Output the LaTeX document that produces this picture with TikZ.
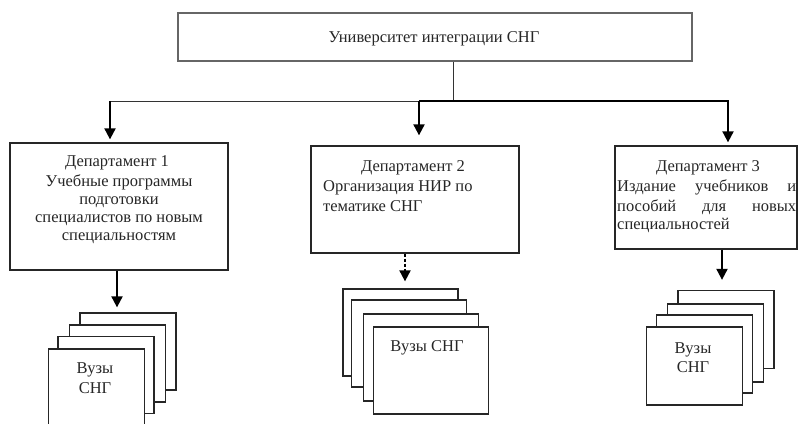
\documentclass[tikz,border=0pt]{standalone}
\usepackage{fontspec}
\setmainfont{Liberation Serif}
\usetikzlibrary{arrows.meta}
\tikzset{
  box/.style={draw=black!85, line width=1.3pt, fill=white, inner sep=0pt},
  topbox/.style={draw=black!60, line width=1.3pt, fill=white, inner sep=0pt},
  ln/.style={anchor=base, inner sep=0pt, font=\fontsize{16.5}{19}\selectfont, text=black!85},
  lnw/.style={anchor=base west, inner sep=0pt, font=\fontsize{16.5}{19}\selectfont, text=black!85},
  thinline/.style={line width=1pt, black!80},
  thickline/.style={line width=2pt, black},
  arr/.style={line width=2pt, black, -{Triangle[length=11pt,width=11pt]}},
  pageA/.style={box, minimum width=96pt, minimum height=77pt},
  pageB/.style={box, minimum width=115pt, minimum height=87pt},
  pageC/.style={box, minimum width=96pt, minimum height=78pt},
}
\begin{document}
\begin{tikzpicture}[x=1pt,y=-1pt]
\useasboundingbox (0,0) rectangle (799,423);
\clip (0,0) rectangle (799,423);
% top box
\node[topbox, minimum width=514pt, minimum height=48pt] (u) at (435,37) {};
\node[ln] (ut) at (434,42) {Университет интеграции СНГ};
% departments
\node[box, minimum width=218pt, minimum height=127pt] (d1) at (119,206.5) {};
\node[box, minimum width=208pt, minimum height=107pt] (d2) at (415,199.5) {};
\node[box, minimum width=182pt, minimum height=103pt] (d3) at (706,197.5) {};
% dept 1 text
\node[ln] (t11) at (117,166) {Департамент 1};
\node[ln] (t12) at (119,186) {Учебные программы};
\node[ln] (t13) at (119,204) {подготовки};
\node[ln] (t14) at (119,222) {специалистов по новым};
\node[ln] (t15) at (119,240) {специальностям};
% dept 2 text
\node[ln] (t21) at (413,171) {Департамент 2};
\node[lnw] (t22) at (323,191) {Организация НИР по};
\node[lnw] (t23) at (323,211) {тематике СНГ};
% dept 3 text
\node[ln] (t31) at (708,171) {Департамент 3};
\node[lnw] (t32) at (617,191) {\makebox[179pt][s]{Издание учебников и}};
\node[lnw] (t33) at (617,211) {\makebox[179pt][s]{пособий для новых}};
\node[lnw] (t34) at (617,229) {специальностей};
% connectors from top
\coordinate (j) at (453,101);
\coordinate (h1) at (110,101);
\coordinate (h2) at (419,101);
\coordinate (h3) at (728,101);
\draw[thinline] (u.south -| j) -- (j);
\draw[thinline] (h2) -- (h1);
\draw[arr, shorten >=3pt] (h1) -- (h1 |- d1.north);
\draw[arr, shorten >=10pt] (h2) -- (h2 |- d2.north);
\draw[arr, shorten >=3pt] (h2) -- (h3) -- (h3 |- d3.north);
% stacks dept 1
\node[pageA] (s1a) at (128,351.5) {};
\node[pageA] (s1b) at (117.5,363.5) {};
\node[pageA] (s1c) at (106,375) {};
\node[pageA] (s1d) at (96.5,387.5) {};
\node[ln] (v11) at (95,373) {Вузы};
\node[ln] (v12) at (95,393) {СНГ};
% stacks dept 2
\node[pageB] (s2a) at (400.5,332.5) {};
\node[pageB] (s2b) at (409,343.5) {};
\node[pageB] (s2c) at (421,357.5) {};
\node[pageB] (s2d) at (431,370.5) {};
\node[ln] (v21) at (427,351) {Вузы СНГ};
% stacks dept 3
\node[pageC] (s3a) at (726,329.5) {};
\node[pageC] (s3b) at (715.5,343) {};
\node[pageC] (s3c) at (704.5,354) {};
\node[pageC] (s3d) at (694.5,366) {};
\node[ln] (v31) at (693,353) {Вузы};
\node[ln] (v32) at (693,372) {СНГ};
% arrows to stacks
\coordinate (b1) at (117,270);
\coordinate (b2) at (405,253);
\coordinate (b3) at (722,249);
\draw[arr, shorten >=5pt] (d1.south -| b1) -- (b1 |- s1a.north);
\draw[arr, dash pattern=on 3pt off 2pt, shorten >=7pt] (d2.south -| b2) -- (b2 |- s2a.north);
\draw[arr, shorten >=10pt] (d3.south -| b3) -- (b3 |- s3a.north);
\end{tikzpicture}
\end{document}
